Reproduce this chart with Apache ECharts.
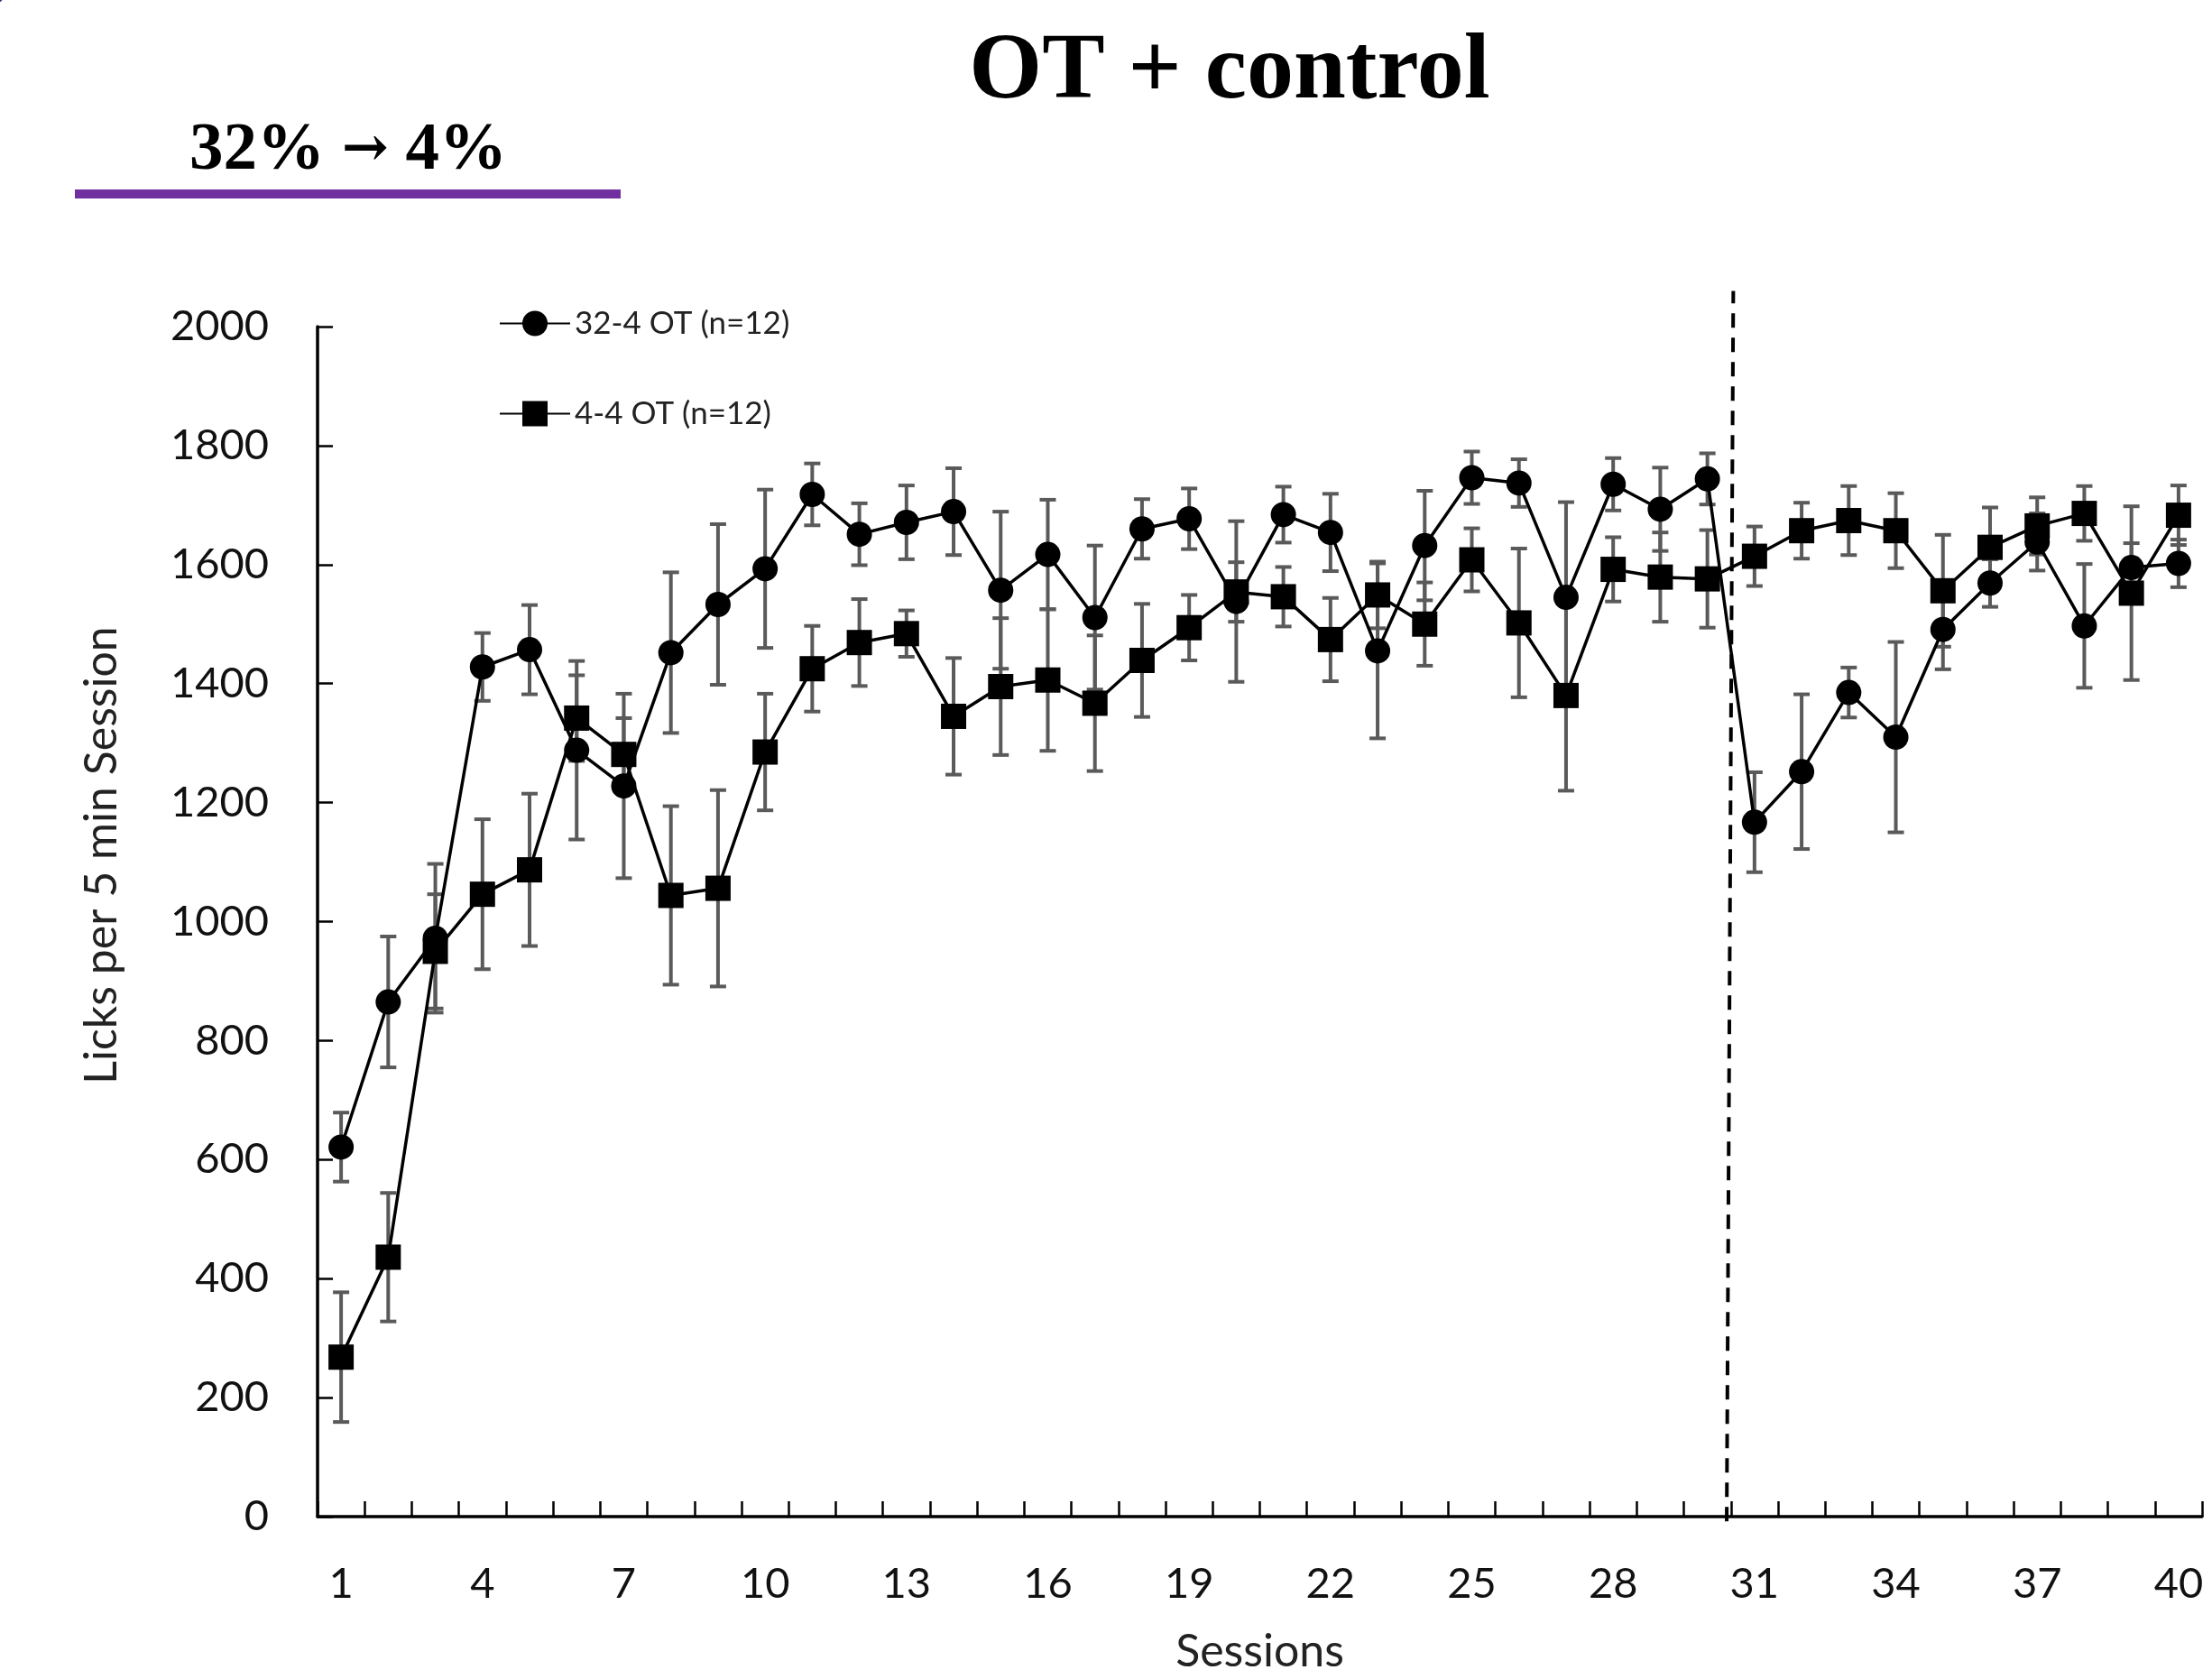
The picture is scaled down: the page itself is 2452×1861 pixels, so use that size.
<!DOCTYPE html>
<html>
<head>
<meta charset="utf-8">
<script src="https://cdn.jsdelivr.net/npm/echarts@6/dist/echarts.min.js"></script>
<style>html,body{margin:0;padding:0;background:#fff}#c{width:2452px;height:1861px}</style>
</head>
<body>
<div id="c"></div>
<script>
// Sessions (categories)
const sessions = ['1','2','3','4','5','6','7','8','9','10','11','12','13','14','15','16','17','18','19','20',
  '21','22','23','24','25','26','27','28','29','30','31','32','33','34','35','36','37','38','39','40'];

// 32-4 OT (n=12): mean licks and SEM
const ot32Mean = [621, 865, 972, 1428, 1457, 1288, 1228, 1452, 1533, 1593,
  1718, 1651, 1671, 1689, 1557, 1617, 1511, 1660, 1677, 1538,
  1684, 1654, 1455, 1632, 1746, 1737, 1545, 1735, 1693, 1744,
  1167, 1252, 1385, 1310, 1491, 1569, 1638, 1497, 1595, 1602];
const ot32Err = [58, 110, 125, 57, 75, 150, 155, 135, 135, 133,
  52, 52, 62, 73, 132, 92, 121, 50, 51, 135,
  47, 65, 147, 92, 44, 40, 160, 44, 70, 43,
  84, 130, 42, 160, 67, 40, 48, 104, 41, 40];

// 4-4 OT (n=12): mean licks and SEM
const ot4Mean = [268, 436, 950, 1046, 1087, 1342, 1281, 1044, 1056, 1285,
  1425, 1469, 1484, 1345, 1395, 1406, 1367, 1439, 1494, 1554,
  1546, 1474, 1549, 1500, 1608, 1502, 1380, 1592, 1579, 1576,
  1614, 1657, 1674, 1657, 1556, 1629, 1665, 1686, 1552, 1683];
const ot4Err = [109, 108, 96, 126, 128, 72, 61, 150, 165, 98,
  72, 73, 39, 98, 115, 119, 114, 95, 55, 50,
  50, 70, 56, 70, 53, 125, 160, 54, 75, 82,
  50, 47, 58, 63, 94, 67, 48, 46, 146, 50];

// Y axis ticks
const yMin = 0, yMax = 2000, yStep = 200;

// Dashed phase divider (session boundary 30|31), in [sessionBoundary, licks]
const phaseBreak = [[29.91, -8], [30.05, 2060]];

const names = ['32-4 OT (n=12)', '4-4 OT (n=12)'];

const chart = echarts.init(document.getElementById('c'), null, {renderer: 'canvas'});

function errorSeries(name, means, errs) {
  return {
    type: 'custom',
    name: name,
    silent: true,
    z: 1,
    animation: false,
    data: means.map((m, i) => [i, m - errs[i], m + errs[i]]),
    encode: {x: 0, y: [1, 2]},
    renderItem: function (params, api) {
      const lo = api.coord([api.value(0), api.value(1)]);
      const hi = api.coord([api.value(0), api.value(2)]);
      const hw = 9;
      const style = {stroke: '#5a5a5a', lineWidth: 4};
      return {
        type: 'group',
        children: [
          {type: 'line', shape: {x1: lo[0], y1: lo[1], x2: hi[0], y2: hi[1]}, style: style},
          {type: 'line', shape: {x1: lo[0] - hw, y1: lo[1], x2: lo[0] + hw, y2: lo[1]}, style: style},
          {type: 'line', shape: {x1: hi[0] - hw, y1: hi[1], x2: hi[0] + hw, y2: hi[1]}, style: style}
        ]
      };
    }
  };
}

function lineSeries(name, data, symbol, z) {
  return {
    type: 'line',
    name: name,
    data: data,
    symbol: symbol,
    symbolSize: 28,
    showAllSymbol: true,
    z: z,
    animation: false,
    lineStyle: {color: '#000', width: 3.5},
    itemStyle: {color: '#000'},
    emphasis: {disabled: true}
  };
}

const font = 'Lato';

chart.setOption({
  backgroundColor: '#fff',
  animation: false,
  grid: {left: 352, right: 11, top: 362, bottom: 171, containLabel: false},
  legend: {
    data: names,
    orient: 'vertical',
    left: 548,
    top: 336,
    itemWidth: 78,
    itemHeight: 35,
    itemGap: 65,
    selectedMode: false,
    textStyle: {fontFamily: font, fontSize: 35, color: '#222'}
  },
  xAxis: [{
    type: 'category',
    data: sessions,
    boundaryGap: true,
    axisLine: {lineStyle: {color: '#000', width: 3.5}},
    axisTick: {show: true, inside: true, length: 17, interval: 0, lineStyle: {color: '#000', width: 2.5}},
    axisLabel: {
      interval: function (i) { return i % 3 === 0; },
      margin: 51, fontFamily: font, fontSize: 47, color: '#111'
    },
    splitLine: {show: false},
    name: 'Sessions',
    nameLocation: 'middle',
    nameGap: 125,
    nameTextStyle: {fontFamily: font, fontSize: 50, color: '#222'}
  }, {
    type: 'value',
    min: 0,
    max: 40,
    show: false
  }],
  yAxis: {
    type: 'value',
    min: yMin, max: yMax, interval: yStep,
    axisLine: {show: true, lineStyle: {color: '#000', width: 3.5}},
    axisTick: {show: true, inside: true, length: 17, lineStyle: {color: '#000', width: 2.5}},
    axisLabel: {margin: 54, fontFamily: font, fontSize: 47, color: '#111', formatter: function (v) { return String(v); }},
    splitLine: {show: false}
  },
  series: [
    errorSeries('err32', ot32Mean, ot32Err),
    errorSeries('err4', ot4Mean, ot4Err),
    {
      type: 'line',
      name: 'divider',
      xAxisIndex: 1,
      data: phaseBreak,
      symbol: 'none',
      clip: false,
      silent: true,
      z: 2,
      animation: false,
      lineStyle: {color: '#000', width: 4, type: [16, 11]}
    },
    lineSeries(names[0], ot32Mean, 'circle', 3),
    lineSeries(names[1], ot4Mean, 'rect', 4)
  ],
  graphic: [
    {type: 'circle', shape: {cx: -20, cy: -24, r: 33}, style: {fill: '#55298c'}},
    {type: 'text', x: 1363, y: 81, style: {text: 'OT + control', font: 'bold 104px "Liberation Serif"', fill: '#000', align: 'center', verticalAlign: 'middle'}},
    {type: 'text', x: 386, y: 168, style: {
      text: '{t|32%} {a|\u2192} {t|4%}',
      align: 'center', verticalAlign: 'middle',
      rich: {
        t: {font: 'bold 75px "Liberation Serif"', fill: '#000', verticalAlign: 'middle'},
        a: {font: 'bold 62px "DejaVu Serif"', fill: '#000', verticalAlign: 'middle'}
      },
      font: 'bold 75px "Liberation Serif"', fill: '#000'
    }},
    {type: 'rect', shape: {x: 83, y: 210, width: 605, height: 10}, style: {fill: '#7030A0'}},
    {type: 'text', x: 113, y: 948, rotation: Math.PI / 2, style: {text: 'Licks per 5 min Session', font: '50px Lato', fill: '#222', align: 'center', verticalAlign: 'middle'}}
  ]
});
</script>
</body>
</html>
